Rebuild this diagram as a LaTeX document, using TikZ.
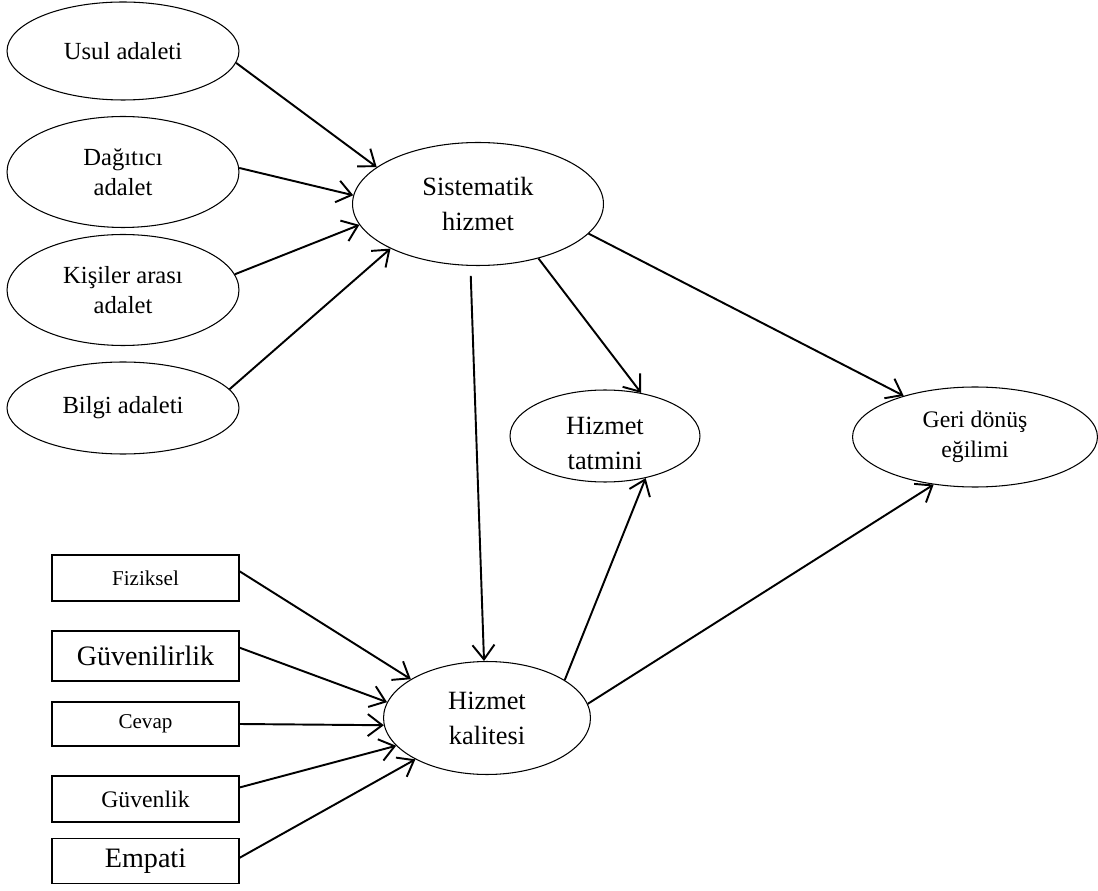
\documentclass[tikz,border=0pt]{standalone}
\usepackage{fontspec}
\setmainfont{Liberation Serif}
\usepackage{tikz}
\usetikzlibrary{shapes.geometric,arrows.meta}
\definecolor{ModelInk}{RGB}{0,0,0}
\newcommand{\lowertext}[2]{\raisebox{-#1}[0.6cm][0.6cm]{\begin{tabular}{@{}c@{}}#2\end{tabular}}}

\begin{document}
\begin{tikzpicture}[x=0.02cm,y=-0.02cm,
  oval/.style={draw=ModelInk,ellipse,line width=0.6pt,inner sep=0pt,align=center,text=ModelInk,font=\fontsize{14}{17}\selectfont},
  dimbox/.style={draw=ModelInk,rectangle,line width=0.9pt,minimum width=3.74cm,inner sep=0pt,align=center,text=ModelInk},
  arr/.style={-{Straight Barb[length=2.9mm,width=4.4mm]},line width=1.1pt,draw=ModelInk}]
  \useasboundingbox (0,0) rectangle (1098,891);
  \node[oval,minimum width=4.64cm,minimum height=1.96cm] (usul) at (123,51) {Usul adaleti};
  \node[oval,minimum width=4.64cm,minimum height=2.22cm] (dagitici) at (123,172) {Dağıtıcı\\adalet};
  \node[oval,minimum width=4.64cm,minimum height=2.22cm] (kisiler) at (123,290) {Kişiler arası\\adalet};
  \node[oval,minimum width=4.64cm,minimum height=1.84cm] (bilgi) at (123,408) {Bilgi adaleti};
  \node[oval,minimum width=5.02cm,minimum height=2.46cm,font=\fontsize{15}{20}\selectfont] (sis) at (478,204) {Sistematik\\hizmet};
  \node[oval,minimum width=3.8cm,minimum height=1.84cm,font=\fontsize{15}{20}\selectfont] (tatmin) at (605,436) {\lowertext{0.3cm}{Hizmet\\tatmini}};
  \node[oval,minimum width=4.9cm,minimum height=2cm,font=\fontsize{13.5}{17}\selectfont] (geri) at (975,437) {\lowertext{0.12cm}{Geri dönüş\\eğilimi}};
  \node[oval,minimum width=4.14cm,minimum height=2.26cm,font=\fontsize{15}{20}\selectfont] (hk) at (487,718) {Hizmet\\kalitesi};
  \node[dimbox,minimum height=0.92cm,font=\fontsize{12}{14}\selectfont] (fiz) at (145.5,578) {Fiziksel};
  \node[dimbox,minimum height=1cm,font=\fontsize{16}{19}\selectfont] (guvenilir) at (145.5,656) {Güvenilirlik};
  \node[dimbox,minimum height=0.88cm,font=\fontsize{12}{14}\selectfont] (cevap) at (145.5,724) {Cevap};
  \node[dimbox,minimum height=0.92cm,font=\fontsize{13.5}{16}\selectfont] (guvenlik) at (145.5,799) {Güvenlik};
  \node[dimbox,minimum height=0.9cm,font=\fontsize{16}{19}\selectfont] (empati) at (145.5,861) {Empati};
  % adalet -> sistematik hizmet
  \draw[arr] (usul.-6)--(sis.160);
  \draw[arr] (dagitici.2)--(sis.176);
  \draw[arr] (kisiler.8)--(sis.190);
  \draw[arr] (bilgi.10)--(sis.207);
  % sistematik hizmet -> sonuclar
  \draw[arr,shorten <=0.2cm] (sis.263)--(hk.93);
  \draw[arr] (sis.-42)--(tatmin.50);
  \draw[arr] (sis.-15)--(geri.150);
  \draw[arr] (hk.26)--(tatmin.-46);
  \draw[arr] (hk.8)--(geri.229);
  % boyutlar -> hizmet kalitesi
  \draw[arr] (fiz.4)--(hk.153);
  \draw[arr] (guvenilir.5)--(hk.171);
  \draw[arr] (cevap.east)--(hk.184);
  \draw[arr] (guvenlik.7)--(hk.197);
  \draw[arr] (empati.2)--(hk.210);
\end{tikzpicture}
\end{document}
